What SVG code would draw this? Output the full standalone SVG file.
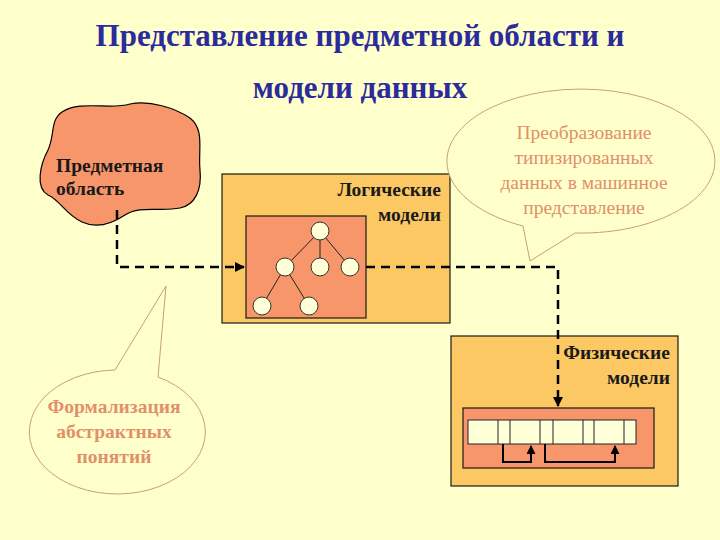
<svg xmlns="http://www.w3.org/2000/svg" width="720" height="540" viewBox="0 0 720 540">
<defs>
<style>
.t{font-family:"Liberation Serif",serif;font-weight:bold}
.title{font-size:31px;fill:#2b2b9b;text-anchor:middle}
.lbl{font-size:19.5px;fill:#1a1a1a}
.call{font-family:"Liberation Serif",serif;font-size:19.5px;fill:#e0906a;text-anchor:middle}
.outer{fill:#fcc864;stroke:#1a1a1a;stroke-width:1.2}
.inner{fill:#f7966a;stroke:#1a1a1a;stroke-width:1.2}
.node{fill:#ffffd8;stroke:#333;stroke-width:1}
.bubble{fill:#ffffcc;stroke:#c8a070;stroke-width:1}
.dash{fill:none;stroke:#000;stroke-width:2.5;stroke-dasharray:9,6}
.thin{stroke:#222;stroke-width:1;fill:none}
.link{fill:none;stroke:#000;stroke-width:2}
</style>
<marker id="ah" viewBox="0 0 10 10" refX="9" refY="5" markerWidth="4" markerHeight="4" orient="auto"><path d="M0,0L10,5L0,10z" fill="#000"/></marker>
<marker id="as" viewBox="0 0 10 10" refX="9" refY="5" markerWidth="4.5" markerHeight="4.5" orient="auto"><path d="M0,0L10,5L0,10z" fill="#000"/></marker>
</defs>
<rect width="720" height="540" fill="#ffffcc"/>
<text class="t title" x="360" y="46">Представление предметной области и</text>
<text class="t title" x="360" y="98">модели данных</text>

<g id="subject">
<path d="M62,112 C80,100 110,110 130,104 C150,100 175,108 190,118 C205,130 198,150 200,170 C202,190 195,205 180,208 C160,212 140,205 125,215 C110,225 95,228 82,222 C65,214 60,200 48,195 C35,188 40,165 48,150 C55,135 50,120 62,112 Z" fill="#f7966a" stroke="#000" stroke-width="1.2"/>
<text class="t lbl" x="56" y="172">Предметная</text>
<text class="t lbl" x="56" y="195">область</text>
</g>

<g id="logical">
<rect class="outer" x="222" y="174" width="228" height="149"/>
<text class="t lbl" x="441" y="196" text-anchor="end">Логические</text>
<text class="t lbl" x="441" y="221" text-anchor="end">модели</text>
<rect class="inner" x="246" y="216" width="120" height="102"/>
<g class="thin">
<line x1="320" y1="231" x2="285" y2="267"/><line x1="320" y1="231" x2="320" y2="267"/><line x1="320" y1="231" x2="350" y2="267"/>
<line x1="285" y1="267" x2="262" y2="306"/><line x1="285" y1="267" x2="309" y2="306"/>
</g>
<circle class="node" cx="320" cy="231" r="9"/><circle class="node" cx="285" cy="267" r="9"/><circle class="node" cx="320" cy="267" r="9"/><circle class="node" cx="350" cy="267" r="9"/><circle class="node" cx="262" cy="306" r="9"/><circle class="node" cx="309" cy="306" r="9"/>
</g>

<g id="physical">
<rect class="outer" x="451" y="336" width="227" height="150"/>
<text class="t lbl" x="670" y="359" text-anchor="end">Физические</text>
<text class="t lbl" x="670" y="384" text-anchor="end">модели</text>
<rect class="inner" x="463" y="408" width="191" height="60"/>
<rect x="468" y="420" width="168" height="24" fill="#ffffd8" stroke="#222" stroke-width="1"/>
<g class="thin"><line x1="498" y1="420" x2="498" y2="444"/><line x1="510" y1="420" x2="510" y2="444"/><line x1="540" y1="420" x2="540" y2="444"/><line x1="553" y1="420" x2="553" y2="444"/><line x1="583" y1="420" x2="583" y2="444"/><line x1="594" y1="420" x2="594" y2="444"/><line x1="624" y1="420" x2="624" y2="444"/></g>
<path class="link" d="M503,444 V462 H531 V446" marker-end="url(#as)"/>
<path class="link" d="M545,444 V462 H615 V446" marker-end="url(#as)"/>
</g>

<g id="callout-right">
<path class="bubble" d="M523,226 A134,72 0 1 1 575,233 L530,261 Z"/>
<text class="call" x="584" y="139">Преобразование</text>
<text class="call" x="584" y="164">типизированных</text>
<text class="call" x="584" y="189">данных в машинное</text>
<text class="call" x="584" y="214">представление</text>
</g>

<g id="callout-left">
<path class="bubble" d="M158,377 A88,62 0 1 1 115,370 L166,286 Z"/>
<text class="call" x="114" y="413" style="font-weight:bold">Формализация</text>
<text class="call" x="114" y="438" style="font-weight:bold">абстрактных</text>
<text class="call" x="114" y="463" style="font-weight:bold">понятий</text>
</g>

<g id="connectors">
<path class="dash" d="M117,210 V267 H244" marker-end="url(#ah)"/>
<path class="dash" d="M366,267 H558 V406" marker-end="url(#ah)"/>
</g>
</svg>
